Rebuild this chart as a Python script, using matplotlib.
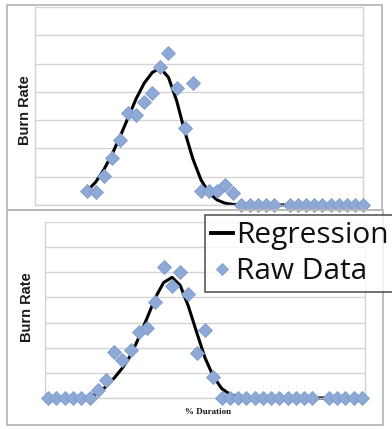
import numpy as np
import matplotlib.pyplot as plt
from matplotlib.lines import Line2D
from matplotlib.patches import Rectangle

# % duration positions for each sample
top_x = [16.0, 18.5, 20.9, 23.4, 25.9, 28.4, 30.8, 33.3, 35.8, 38.2,
         40.7, 43.2, 45.6, 48.1, 50.6, 53.1, 55.5, 58.0, 60.5, 62.9,
         65.4, 67.9, 70.4, 72.8, 75.3, 77.8, 80.2, 82.7, 85.2, 87.6,
         90.1, 92.6, 95.1, 97.5, 100.0]
top_raw = [0.49, 0.46, 1.02, 1.66, 2.30, 3.25, 3.18, 3.64, 3.96, 4.88,
           5.37, 4.13, 2.72, 4.31, 0.49, 0.49, 0.49, 0.71, 0.42, 0.0,
           0.0, 0.0, 0.0, 0.0, np.nan, 0.0, 0.0, 0.0, 0.0, 0.0,
           0.0, 0.0, 0.0, 0.0, 0.0]
top_fit = [0.51, 0.81, 1.23, 1.77, 2.41, 3.09, 3.75, 4.31, 4.69, 4.84,
           4.51, 3.68, 2.62, 1.64, 0.89, 0.42, 0.18, 0.06, 0.02, 0.0,
           0.0, 0.0, 0.0, 0.0, 0.0, 0.0, 0.0, 0.0, 0.0, 0.0,
           0.0, 0.0, 0.0, 0.0, 0.0]

bot_x = [0.0, 2.6, 5.3, 7.9, 10.5, 13.2, 15.8, 18.4, 21.1, 23.7,
         26.3, 28.9, 31.6, 34.2, 36.8, 39.5, 42.1, 44.7, 47.4, 50.0,
         52.6, 55.3, 57.9, 60.5, 63.2, 65.8, 68.4, 71.1, 73.7, 76.3,
         78.9, 81.6, 84.2, 86.8, 89.5, 92.1, 94.7, 97.4, 100.0]
bot_raw = [0.0, 0.0, 0.0, 0.0, 0.0, 0.0, 0.32, 0.72, 1.84, 1.52,
           1.92, 2.64, 2.80, 3.80, 5.20, 4.44, 5.00, 4.12, 1.80, 2.72,
           0.84, 0.0, 0.0, 0.0, 0.0, 0.0, 0.0, 0.0, 0.0, 0.0,
           0.0, 0.0, 0.0, np.nan, 0.0, 0.0, 0.0, 0.0, 0.0]
bot_fit = [0.0, 0.0, 0.0, 0.0, 0.02, 0.06, 0.18, 0.45, 0.80, 1.20,
           1.70, 2.40, 3.20, 4.00, 4.59, 4.80, 4.48, 3.65, 2.59, 1.60,
           0.87, 0.38, 0.15, 0.05, 0.01, 0.0, 0.0, 0.0, 0.0, 0.0,
           0.0, 0.0, 0.0, 0.0, 0.0, 0.0, 0.0, 0.0, 0.0]

W, H = 392, 429
fig = plt.figure(figsize=(W / 100, H / 100), dpi=100)
fig.patch.set_facecolor('white')

def box(x0, y0, x1, y1):
    # pixel box (top-left origin) -> figure fraction rect
    return [x0 / W, 1 - y1 / H, (x1 - x0) / W, (y1 - y0) / H]

blue = '#8fa9d6'
edge = '#7f9bcb'
grid = '#d4d4d4'

def panel(rect, xs, raw, fit, xlim):
    ax = fig.add_axes(rect)
    ax.plot(xs, fit, color='black', lw=2.2, solid_capstyle='round', zorder=2, clip_on=False)
    ax.plot(xs, raw, ls='none', marker='D', ms=7.3, mfc=blue, mec=edge,
            mew=0.6, zorder=3, clip_on=False)
    ax.set_xlim(*xlim)
    ax.set_ylim(0, 7)
    ax.set_yticks(range(8))
    ax.set_xticks([])
    ax.tick_params(left=False, labelleft=False)
    ax.grid(axis='y', color=grid, lw=1)
    ax.set_axisbelow(True)
    for s in ax.spines.values():
        s.set_color(grid)
        s.set_linewidth(1)
    ax.spines['top'].set_visible(False)
    return ax

ax1 = panel(box(35, 7, 363, 205), top_x, top_raw, top_fit, (0, 100))
ax2 = panel(box(45, 222, 365, 398), bot_x, bot_raw, bot_fit, (-1, 101))

lab = dict(rotation=90, ha='center', va='center', fontsize=10.5,
           fontweight='bold', family='Liberation Sans', color='#1a1a1a')
fig.text(25 / W, 1 - 110 / H, 'Burn Rate', **lab)
fig.text(27 / W, 1 - 307 / H, 'Burn Rate', **lab)
fig.text(208 / W, 1 - 412 / H, '% Duration', ha='center', va='center',
         fontsize=6.5, fontweight='bold', family='Liberation Serif', color='#1a1a1a')

# chart frames
frame = '#b8b8b8'
fig.add_artist(Rectangle((7 / W, 1 - 210 / H), 375 / W, 205 / H, transform=fig.transFigure,
                         fill=False, ec=frame, lw=1.3))
fig.add_artist(Rectangle((7 / W, 1 - 425 / H), 376 / W, 215 / H, transform=fig.transFigure,
                         fill=False, ec=frame, lw=1.3))

handles = [Line2D([], [], color='black', lw=2.8),
           Line2D([], [], ls='none', marker='D', ms=6, mfc=blue, mec=edge, mew=0.6)]
leg = fig.legend(handles, ['Regression', 'Raw Data'], loc='upper left',
                 bbox_to_anchor=(205 / W, 1 - 215 / H), frameon=True, fancybox=False,
                 prop={'family': 'Open Sans', 'size': 21.5}, handlelength=0.75,
                 handletextpad=0.1, borderpad=0.2, labelspacing=0.25, borderaxespad=0)
leg.get_frame().set_edgecolor('#404040')
leg.get_frame().set_linewidth(1.3)
for t in leg.get_texts():
    t.set_color('#111111')

fig.savefig('out.png', dpi=100)
